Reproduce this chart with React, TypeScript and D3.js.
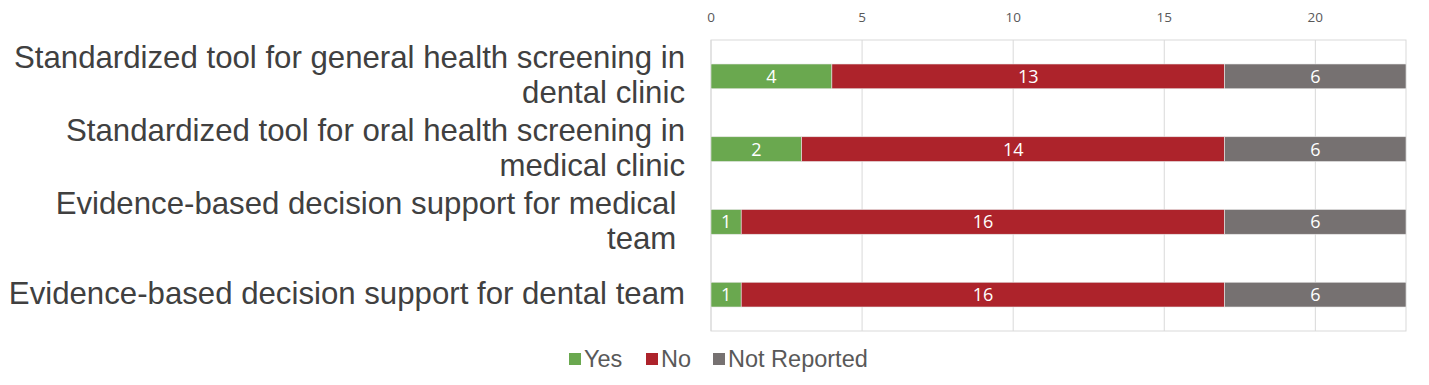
import React from 'react';
import * as d3 from 'd3';

const categories: string[][] = [
  ['Standardized tool for general health screening in', 'dental clinic'],
  ['Standardized tool for oral health screening in', 'medical clinic'],
  ['Evidence-based decision support for medical\u00a0', 'team\u00a0'],
  ['Evidence-based decision support for dental team'],
];
const seriesNames = ['Yes', 'No', 'Not Reported'];
const yesValues = [4, 3, 1, 1];
const yesLabels = [4, 2, 1, 1];
const noValues = [13, 14, 16, 16];
const notReportedValues = [6, 6, 6, 6];
const xTicks = [0, 5, 10, 15, 20];
const colors = ['#6aa84f', '#ad232b', '#767171'];

const W = 1429;
const H = 385;
const margin = { top: 40, right: 23, bottom: 54, left: 711 };

const App: React.FC = () => {
  const innerW = W - margin.left - margin.right;
  const innerH = H - margin.top - margin.bottom;

  const x = d3.scaleLinear().domain([0, 23]).range([0, innerW]);
  const y = d3.scaleBand<number>()
    .domain(categories.map((_, i) => i))
    .range([0, innerH])
    .paddingInner(0.66)
    .paddingOuter(0.33);

  const rows = categories.map((_, i) => ({
    i,
    values: [yesValues[i], noValues[i], notReportedValues[i]],
    labels: [yesLabels[i], noValues[i], notReportedValues[i]],
  }));

  const labelFont = 'Liberation Sans, Arial, sans-serif';
  const numFont = '"Open Sans", Calibri, sans-serif';
  const lineH = 35.2;

  // legend layout
  const legendX = [569, 646, 713];

  return (
    <svg width={W} height={H} style={{ position: 'absolute', left: 0, top: 0, background: '#fff' }}>
      <g transform={`translate(${margin.left},${margin.top})`}>
        {/* gridlines */}
        {xTicks.map((t) => (
          <line key={t} x1={x(t)} x2={x(t)} y1={0} y2={innerH} stroke="#d9d9d9" strokeWidth={1} />
        ))}
        <rect x={0} y={0} width={innerW} height={innerH} fill="none" stroke="#d9d9d9" strokeWidth={1} />

        {/* axis labels on top */}
        {xTicks.map((t) => (
          <text key={t} x={x(t)} y={-18} textAnchor="middle" fontFamily={numFont} fontSize={13.5} fill="#595959">
            {t}
          </text>
        ))}

        {/* bars */}
        {rows.map((r) => {
          const stacks = d3.cumsum(r.values);
          return (
            <g key={r.i} transform={`translate(0,${y(r.i)})`}>
              {r.values.map((v, k) => {
                const x0 = x(k === 0 ? 0 : stacks[k - 1]);
                const x1 = x(stacks[k]);
                return (
                  <g key={k}>
                    <rect x={x0} y={0} width={x1 - x0} height={y.bandwidth()} fill={colors[k]}
                      stroke="#e6e6e6" strokeWidth={0.6} />
                    <text x={(x0 + x1) / 2} y={y.bandwidth() / 2} dy="0.36em" textAnchor="middle"
                      fontFamily={numFont} fontSize={18} fill="#fff">
                      {r.labels[k]}
                    </text>
                  </g>
                );
              })}
            </g>
          );
        })}
      </g>

      {/* category labels */}
      {categories.map((lines, i) => {
        const cy = margin.top + (y(i) as number) + y.bandwidth() / 2;
        return (
          <text key={i} textAnchor="end" fontFamily={labelFont} fontSize={31.2} fill="#404040"
            style={{ whiteSpace: 'pre' }}>
            {lines.map((ln, j) => (
              <tspan key={j} x={685} y={cy + (j - (lines.length - 1) / 2) * lineH + 9.5}>{ln}</tspan>
            ))}
          </text>
        );
      })}

      {/* legend */}
      {seriesNames.map((name, k) => (
        <g key={name} transform={`translate(${legendX[k]},359)`}>
          <rect x={0} y={-6} width={12} height={12} fill={colors[k]} />
          <text x={15} y={0} dy="0.35em" fontFamily={labelFont} fontSize={23.5} fill="#595959">{name}</text>
        </g>
      ))}
    </svg>
  );
};

export default App;
